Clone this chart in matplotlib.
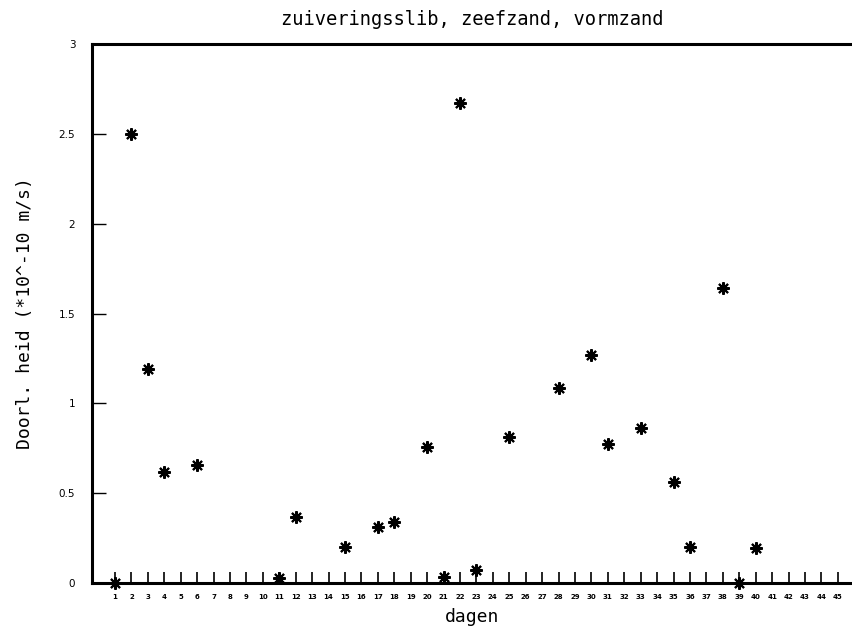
import matplotlib
matplotlib.use("Agg")
import matplotlib.pyplot as plt

days = [1, 2, 3, 4, 6, 11, 12, 15, 17, 18, 20, 21, 22, 23, 25, 28, 30, 31, 33, 35, 36, 38, 39, 40]
values = [0.0, 2.50, 1.19, 0.62, 0.655, 0.03, 0.365, 0.20, 0.31, 0.34, 0.755, 0.035, 2.67, 0.07,
          0.815, 1.085, 1.27, 0.775, 0.865, 0.56, 0.20, 1.64, 0.0, 0.195]
x_ticks = list(range(1, 46))
y_ticks = [0, 0.5, 1, 1.5, 2, 2.5, 3]
y_tick_labels = ["0", "0.5", "1", "1.5", "2", "2.5", "3"]

title = "zuiveringsslib, zeefzand, vormzand"
xlabel = "dagen"
ylabel = "Doorl. heid (*10^-10 m/s)"

fig = plt.figure(figsize=(8.53, 6.27), dpi=100)
ax = fig.add_axes([92/853, 44/627, 1 - 92/853, 1 - 88/627])

ax.plot(days, values, linestyle="none", marker=(8, 2, 0), markersize=9,
        markeredgewidth=1.5, color="black", clip_on=False)

ax.set_xlim(-0.4, 45.92)
ax.set_ylim(0, 3)

ax.spines["right"].set_visible(False)
for s in ("left", "bottom", "top"):
    ax.spines[s].set_linewidth(2.2)

ax.set_xticks(x_ticks)
ax.set_xticklabels([str(t) for t in x_ticks], fontsize=5, fontweight="bold")
ax.set_yticks(y_ticks)
ax.set_yticklabels(y_tick_labels, fontsize=7.5)
ax.tick_params(axis="x", direction="in", length=8, width=1.2, pad=8)
ax.tick_params(axis="y", direction="in", length=10, width=1.0, pad=12)

mono = "DejaVu Sans Mono"
ax.set_title(title, fontsize=13.5, family=mono, pad=14)
ax.set_xlabel(xlabel, fontsize=13, family=mono, labelpad=6)
ax.set_ylabel(ylabel, fontsize=13, family=mono, labelpad=18)

fig.savefig("out.png", dpi=100)
